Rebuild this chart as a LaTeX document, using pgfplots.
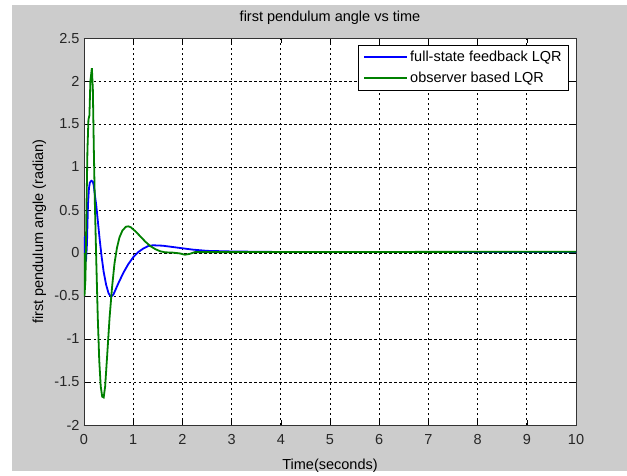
\documentclass[border=0pt]{standalone}
\usepackage{pgfplots}
\pgfplotsset{compat=1.18}
\usepackage{fontspec}
\setmainfont{Liberation Sans}
\definecolor{figgrey}{RGB}{204,204,204}
\definecolor{mgreen}{RGB}{0,128,0}
\begin{document}
\begin{tikzpicture}
\fill[white] (0pt,0pt) rectangle (627pt,-471pt);
\fill[figgrey] (12pt,-5pt) rectangle (627pt,-471pt);
\begin{axis}[
  at={(84pt,-425pt)}, anchor=south west,
  width=492pt, height=387pt, scale only axis,
  xmin=0, xmax=10, ymin=-2, ymax=2.5,
  xtick={0,1,...,10},
  ytick={-2,-1.5,...,2.5},
  yticklabels={-2,-1.5,-1,-0.5,0,0.5,1,1.5,2,2.5},
  axis background/.style={fill=white},
  tick align=inside, tick pos=both,
  major tick length=5pt,
  tick style={black, line width=0.6pt},
  axis line style={black!80, line width=0.8pt},
  grid=major,
  major grid style={black, line width=0.7pt, dash pattern=on 2.5pt off 2.5pt},
  font=\fontsize{14.5}{17}\selectfont,
  /pgf/number format/assume math mode=true,
  ticklabel style={font=\fontsize{14.5}{17}\selectfont, text=black!85},
  xticklabel style={anchor=base, yshift=-19pt},
  yticklabel style={anchor=east, xshift=-1pt},
  title={first pendulum angle vs time},
  title style={at={(axis description cs:0.5,1.0284)}, anchor=base, font=\fontsize{14.5}{17}\selectfont},
  xlabel={Time(seconds)},
  xlabel style={at={(axis description cs:0.5,-0.1137)}, anchor=base},
  ylabel={first pendulum angle (radian)},
  ylabel style={at={(axis description cs:-0.0833,0.5)}, anchor=base, rotate=0},
  legend style={at={(axis description cs:0.986,0.982)}, anchor=north east,
    draw=black, line width=0.8pt, fill=white, inner xsep=5pt, inner ysep=4pt,
    row sep=5pt, font=\fontsize{14.5}{17}\selectfont, cells={anchor=west}},
  legend image code/.code={\draw[#1, line width=2pt] (0pt,0pt) -- (43pt,0pt);},
]
\addplot[blue, line width=1.8pt] coordinates {
(0,0) (0.02,0.2) (0.04,-0.1) (0.06,0.1) (0.08,0.55) (0.10,0.75) (0.12,0.82)
(0.15,0.84) (0.18,0.83) (0.20,0.78) (0.22,0.68) (0.25,0.55) (0.28,0.38)
(0.32,0.15) (0.36,-0.05) (0.40,-0.22) (0.45,-0.37) (0.50,-0.47) (0.55,-0.51)
(0.60,-0.48) (0.70,-0.35) (0.80,-0.23) (0.90,-0.13) (1.00,-0.05) (1.10,0.01)
(1.20,0.05) (1.30,0.08) (1.40,0.09) (1.60,0.085) (1.80,0.07) (2.00,0.055)
(2.20,0.04) (2.50,0.025) (3.00,0.018) (3.60,0.014) (4.00,0.012) (10,0.012)
};
\addlegendentry{full-state feedback LQR}
\addplot[mgreen, line width=1.8pt] coordinates {
(0,0) (0.01,-0.5) (0.03,-0.3) (0.05,0.5) (0.07,1.2) (0.09,1.55) (0.11,1.6)
(0.13,2.0) (0.16,2.15) (0.18,1.9) (0.20,1.2) (0.22,0.6) (0.25,-0.1)
(0.28,-0.75) (0.31,-1.25) (0.34,-1.55) (0.37,-1.67) (0.40,-1.68) (0.43,-1.55)
(0.47,-1.2) (0.52,-0.75) (0.57,-0.4) (0.62,-0.12) (0.67,0.06) (0.72,0.18)
(0.78,0.26) (0.85,0.305) (0.90,0.31) (0.95,0.30) (1.05,0.25) (1.15,0.19)
(1.25,0.13) (1.35,0.08) (1.45,0.045) (1.55,0.02) (1.65,0.008) (1.80,0.005)
(1.95,-0.005) (2.05,-0.02) (2.15,-0.01) (2.25,0.01) (10,0.015)
};
\addlegendentry{observer based LQR}
\end{axis}
\end{tikzpicture}
\end{document}
